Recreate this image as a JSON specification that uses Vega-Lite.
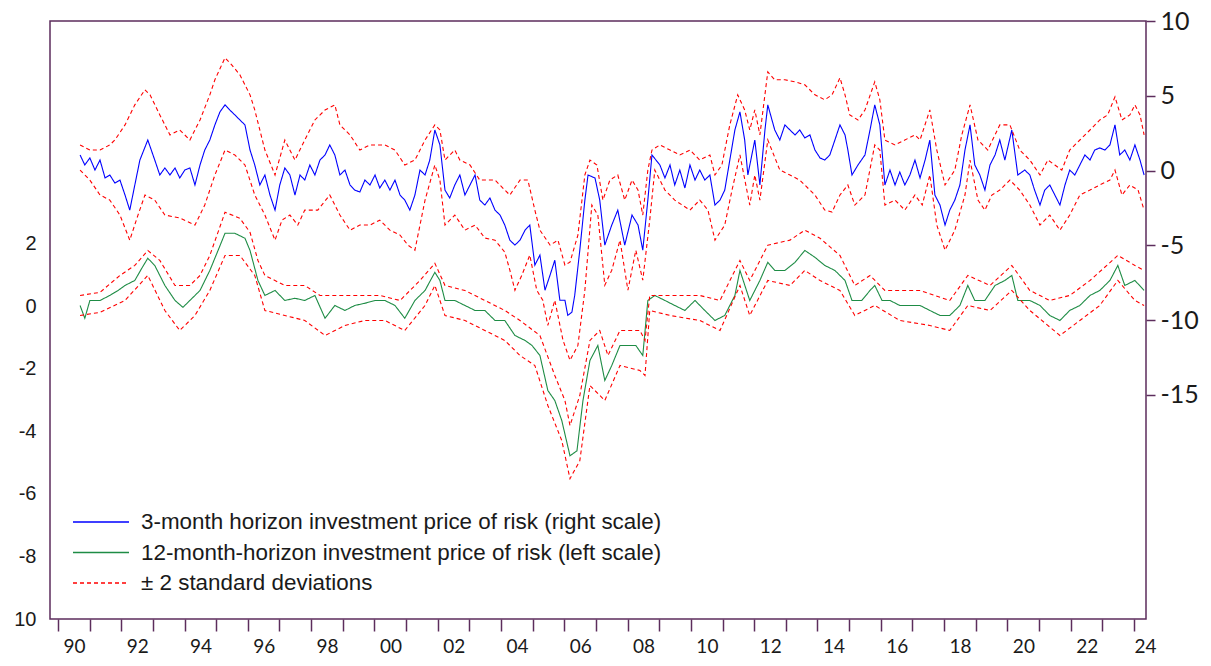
{
 "$schema": "https://vega.github.io/schema/vega-lite/v6.json",
 "width": 1096,
 "height": 598,
 "autosize": {"type": "none"},
 "padding": {"left": 50, "top": 21, "right": 65, "bottom": 47},
 "background": "white",
 "config": {"view": {"stroke": "#5c2d5c", "strokeWidth": 1.5}},
 "datasets": {
  "blue": [
   {"s":"b","t":1990.70,"v":1.04},{"s":"b","t":1990.85,"v":0.37},{"s":"b","t":1991.01,"v":0.84},{"s":"b","t":1991.17,"v":0.03},{"s":"b","t":1991.33,"v":0.70},{"s":"b","t":1991.49,"v":-0.50},{"s":"b","t":1991.64,"v":-0.30},{"s":"b","t":1991.80,"v":-0.84},{"s":"b","t":1991.96,"v":-0.64},{"s":"b","t":1992.12,"v":-1.64},{"s":"b","t":1992.27,"v":-2.65},{"s":"b","t":1992.43,"v":-0.97},{"s":"b","t":1992.59,"v":0.70},{"s":"b","t":1992.84,"v":2.04},{"s":"b","t":1993.06,"v":0.70},{"s":"b","t":1993.22,"v":-0.30},{"s":"b","t":1993.38,"v":0.17},{"s":"b","t":1993.54,"v":-0.30},{"s":"b","t":1993.70,"v":0.17},{"s":"b","t":1993.85,"v":-0.50},{"s":"b","t":1994.01,"v":0.03},{"s":"b","t":1994.17,"v":0.17},{"s":"b","t":1994.33,"v":-0.97},{"s":"b","t":1994.49,"v":0.37},{"s":"b","t":1994.64,"v":1.37},{"s":"b","t":1994.80,"v":2.04},{"s":"b","t":1994.96,"v":3.05},{"s":"b","t":1995.12,"v":3.92},{"s":"b","t":1995.28,"v":4.39},{"s":"b","t":1995.43,"v":4.05},{"s":"b","t":1995.59,"v":3.72},{"s":"b","t":1995.75,"v":3.38},{"s":"b","t":1995.91,"v":3.05},{"s":"b","t":1996.07,"v":1.37},{"s":"b","t":1996.22,"v":0.37},{"s":"b","t":1996.38,"v":-0.97},{"s":"b","t":1996.54,"v":-0.30},{"s":"b","t":1996.70,"v":-1.64},{"s":"b","t":1996.86,"v":-2.65},{"s":"b","t":1997.01,"v":-0.97},{"s":"b","t":1997.17,"v":0.17},{"s":"b","t":1997.33,"v":-0.30},{"s":"b","t":1997.49,"v":-1.64},{"s":"b","t":1997.65,"v":-0.30},{"s":"b","t":1997.80,"v":-0.64},{"s":"b","t":1997.96,"v":0.37},{"s":"b","t":1998.12,"v":-0.30},{"s":"b","t":1998.28,"v":0.70},{"s":"b","t":1998.44,"v":1.04},{"s":"b","t":1998.59,"v":1.71},{"s":"b","t":1998.75,"v":1.04},{"s":"b","t":1998.91,"v":-0.30},{"s":"b","t":1999.07,"v":0.03},{"s":"b","t":1999.23,"v":-0.97},{"s":"b","t":1999.38,"v":-1.31},{"s":"b","t":1999.54,"v":-1.44},{"s":"b","t":1999.70,"v":-0.64},{"s":"b","t":1999.86,"v":-0.97},{"s":"b","t":2000.02,"v":-0.30},{"s":"b","t":2000.17,"v":-1.17},{"s":"b","t":2000.33,"v":-0.64},{"s":"b","t":2000.49,"v":-1.31},{"s":"b","t":2000.65,"v":-0.64},{"s":"b","t":2000.81,"v":-1.64},{"s":"b","t":2000.96,"v":-1.98},{"s":"b","t":2001.12,"v":-2.65},{"s":"b","t":2001.28,"v":-1.64},{"s":"b","t":2001.44,"v":0.03},{"s":"b","t":2001.60,"v":-0.30},{"s":"b","t":2001.75,"v":0.70},{"s":"b","t":2001.91,"v":2.71},{"s":"b","t":2002.07,"v":1.71},{"s":"b","t":2002.23,"v":-1.31},{"s":"b","t":2002.38,"v":-1.84},{"s":"b","t":2002.54,"v":-0.97},{"s":"b","t":2002.70,"v":-0.30},{"s":"b","t":2002.86,"v":-1.64},{"s":"b","t":2003.02,"v":-0.97},{"s":"b","t":2003.18,"v":-0.30},{"s":"b","t":2003.33,"v":-1.98},{"s":"b","t":2003.49,"v":-2.31},{"s":"b","t":2003.65,"v":-1.84},{"s":"b","t":2003.81,"v":-2.65},{"s":"b","t":2003.97,"v":-2.98},{"s":"b","t":2004.12,"v":-3.65},{"s":"b","t":2004.28,"v":-4.66},{"s":"b","t":2004.44,"v":-4.99},{"s":"b","t":2004.60,"v":-4.66},{"s":"b","t":2004.76,"v":-3.99},{"s":"b","t":2004.91,"v":-3.65},{"s":"b","t":2005.07,"v":-6.33},{"s":"b","t":2005.23,"v":-5.66},{"s":"b","t":2005.39,"v":-8.01},{"s":"b","t":2005.55,"v":-7.00},{"s":"b","t":2005.70,"v":-6.00},{"s":"b","t":2005.86,"v":-8.68},{"s":"b","t":2006.02,"v":-8.68},{"s":"b","t":2006.11,"v":-9.69},{"s":"b","t":2006.24,"v":-9.48},{"s":"b","t":2006.33,"v":-8.34},{"s":"b","t":2006.49,"v":-5.33},{"s":"b","t":2006.65,"v":-1.98},{"s":"b","t":2006.75,"v":-0.30},{"s":"b","t":2006.97,"v":-0.50},{"s":"b","t":2007.12,"v":-1.98},{"s":"b","t":2007.28,"v":-4.99},{"s":"b","t":2007.50,"v":-3.65},{"s":"b","t":2007.69,"v":-2.65},{"s":"b","t":2007.91,"v":-4.99},{"s":"b","t":2008.14,"v":-2.98},{"s":"b","t":2008.33,"v":-3.65},{"s":"b","t":2008.48,"v":-5.33},{"s":"b","t":2008.64,"v":-1.98},{"s":"b","t":2008.77,"v":1.04},{"s":"b","t":2009.02,"v":0.37},{"s":"b","t":2009.18,"v":-0.50},{"s":"b","t":2009.34,"v":0.37},{"s":"b","t":2009.49,"v":-0.97},{"s":"b","t":2009.65,"v":0.03},{"s":"b","t":2009.81,"v":-1.17},{"s":"b","t":2009.97,"v":0.37},{"s":"b","t":2010.13,"v":-0.64},{"s":"b","t":2010.28,"v":0.03},{"s":"b","t":2010.44,"v":-0.64},{"s":"b","t":2010.60,"v":-0.30},{"s":"b","t":2010.76,"v":-2.31},{"s":"b","t":2010.92,"v":-1.98},{"s":"b","t":2011.07,"v":-1.31},{"s":"b","t":2011.23,"v":0.70},{"s":"b","t":2011.39,"v":2.71},{"s":"b","t":2011.55,"v":3.92},{"s":"b","t":2011.70,"v":2.04},{"s":"b","t":2011.80,"v":-0.30},{"s":"b","t":2012.02,"v":2.04},{"s":"b","t":2012.18,"v":-0.97},{"s":"b","t":2012.34,"v":2.71},{"s":"b","t":2012.43,"v":4.39},{"s":"b","t":2012.65,"v":2.71},{"s":"b","t":2012.81,"v":2.04},{"s":"b","t":2012.97,"v":3.05},{"s":"b","t":2013.13,"v":2.71},{"s":"b","t":2013.29,"v":2.38},{"s":"b","t":2013.44,"v":2.71},{"s":"b","t":2013.60,"v":2.18},{"s":"b","t":2013.76,"v":2.38},{"s":"b","t":2013.92,"v":1.37},{"s":"b","t":2014.08,"v":0.84},{"s":"b","t":2014.23,"v":0.70},{"s":"b","t":2014.39,"v":1.04},{"s":"b","t":2014.55,"v":2.04},{"s":"b","t":2014.71,"v":3.05},{"s":"b","t":2014.87,"v":2.38},{"s":"b","t":2014.96,"v":1.37},{"s":"b","t":2015.09,"v":-0.30},{"s":"b","t":2015.28,"v":0.37},{"s":"b","t":2015.50,"v":1.04},{"s":"b","t":2015.66,"v":2.71},{"s":"b","t":2015.81,"v":4.39},{"s":"b","t":2015.97,"v":3.05},{"s":"b","t":2016.13,"v":-0.97},{"s":"b","t":2016.29,"v":0.03},{"s":"b","t":2016.45,"v":-0.97},{"s":"b","t":2016.60,"v":-0.10},{"s":"b","t":2016.76,"v":-0.97},{"s":"b","t":2016.92,"v":-0.30},{"s":"b","t":2017.08,"v":0.70},{"s":"b","t":2017.24,"v":-0.50},{"s":"b","t":2017.40,"v":0.70},{"s":"b","t":2017.55,"v":2.04},{"s":"b","t":2017.71,"v":-1.64},{"s":"b","t":2017.87,"v":-2.31},{"s":"b","t":2018.03,"v":-3.65},{"s":"b","t":2018.18,"v":-2.65},{"s":"b","t":2018.34,"v":-1.98},{"s":"b","t":2018.50,"v":-0.97},{"s":"b","t":2018.66,"v":1.37},{"s":"b","t":2018.82,"v":3.05},{"s":"b","t":2018.97,"v":0.37},{"s":"b","t":2019.13,"v":-0.30},{"s":"b","t":2019.29,"v":-1.31},{"s":"b","t":2019.45,"v":0.37},{"s":"b","t":2019.61,"v":1.04},{"s":"b","t":2019.76,"v":2.04},{"s":"b","t":2019.92,"v":0.70},{"s":"b","t":2020.14,"v":2.71},{"s":"b","t":2020.33,"v":-0.30},{"s":"b","t":2020.55,"v":0.03},{"s":"b","t":2020.71,"v":-0.30},{"s":"b","t":2020.86,"v":-1.31},{"s":"b","t":2021.03,"v":-2.31},{"s":"b","t":2021.18,"v":-1.31},{"s":"b","t":2021.34,"v":-0.97},{"s":"b","t":2021.50,"v":-1.64},{"s":"b","t":2021.66,"v":-2.31},{"s":"b","t":2021.82,"v":-0.97},{"s":"b","t":2021.97,"v":0.03},{"s":"b","t":2022.13,"v":-0.30},{"s":"b","t":2022.29,"v":0.37},{"s":"b","t":2022.45,"v":1.04},{"s":"b","t":2022.61,"v":0.70},{"s":"b","t":2022.76,"v":1.37},{"s":"b","t":2022.92,"v":1.51},{"s":"b","t":2023.08,"v":1.37},{"s":"b","t":2023.24,"v":1.71},{"s":"b","t":2023.40,"v":3.05},{"s":"b","t":2023.55,"v":1.04},{"s":"b","t":2023.71,"v":1.37},{"s":"b","t":2023.87,"v":0.70},{"s":"b","t":2024.03,"v":1.71},{"s":"b","t":2024.19,"v":0.70},{"s":"b","t":2024.32,"v":-0.30},
   {"s":"bh","t":1990.70,"v":1.71},{"s":"bh","t":1991.01,"v":1.37},{"s":"bh","t":1991.33,"v":1.37},{"s":"bh","t":1991.64,"v":1.71},{"s":"bh","t":1991.80,"v":2.04},{"s":"bh","t":1992.12,"v":3.05},{"s":"bh","t":1992.43,"v":4.39},{"s":"bh","t":1992.75,"v":5.40},{"s":"bh","t":1992.91,"v":5.06},{"s":"bh","t":1993.22,"v":3.72},{"s":"bh","t":1993.54,"v":2.38},{"s":"bh","t":1993.85,"v":2.71},{"s":"bh","t":1994.17,"v":2.04},{"s":"bh","t":1994.33,"v":2.71},{"s":"bh","t":1994.49,"v":3.38},{"s":"bh","t":1994.80,"v":5.06},{"s":"bh","t":1994.96,"v":6.07},{"s":"bh","t":1995.28,"v":7.54},{"s":"bh","t":1995.49,"v":7.07},{"s":"bh","t":1995.75,"v":6.40},{"s":"bh","t":1996.07,"v":5.06},{"s":"bh","t":1996.22,"v":4.05},{"s":"bh","t":1996.54,"v":1.37},{"s":"bh","t":1996.86,"v":-0.30},{"s":"bh","t":1997.17,"v":2.04},{"s":"bh","t":1997.49,"v":0.70},{"s":"bh","t":1997.80,"v":2.04},{"s":"bh","t":1998.12,"v":3.38},{"s":"bh","t":1998.44,"v":4.05},{"s":"bh","t":1998.75,"v":4.39},{"s":"bh","t":1998.91,"v":3.05},{"s":"bh","t":1999.23,"v":2.38},{"s":"bh","t":1999.54,"v":1.37},{"s":"bh","t":1999.86,"v":1.71},{"s":"bh","t":2000.33,"v":1.71},{"s":"bh","t":2000.65,"v":1.37},{"s":"bh","t":2000.96,"v":0.37},{"s":"bh","t":2001.28,"v":0.70},{"s":"bh","t":2001.60,"v":2.04},{"s":"bh","t":2001.91,"v":3.05},{"s":"bh","t":2002.07,"v":2.71},{"s":"bh","t":2002.23,"v":0.70},{"s":"bh","t":2002.54,"v":1.37},{"s":"bh","t":2002.70,"v":0.70},{"s":"bh","t":2003.02,"v":0.37},{"s":"bh","t":2003.33,"v":-0.64},{"s":"bh","t":2003.81,"v":-0.64},{"s":"bh","t":2004.12,"v":-1.31},{"s":"bh","t":2004.28,"v":-1.64},{"s":"bh","t":2004.60,"v":-0.64},{"s":"bh","t":2004.85,"v":-0.64},{"s":"bh","t":2005.07,"v":-2.65},{"s":"bh","t":2005.23,"v":-3.99},{"s":"bh","t":2005.55,"v":-4.99},{"s":"bh","t":2005.80,"v":-4.66},{"s":"bh","t":2006.02,"v":-6.33},{"s":"bh","t":2006.18,"v":-6.13},{"s":"bh","t":2006.43,"v":-4.32},{"s":"bh","t":2006.65,"v":-0.30},{"s":"bh","t":2006.81,"v":0.70},{"s":"bh","t":2007.03,"v":0.37},{"s":"bh","t":2007.22,"v":-1.98},{"s":"bh","t":2007.44,"v":-0.64},{"s":"bh","t":2007.69,"v":-0.30},{"s":"bh","t":2007.91,"v":-1.98},{"s":"bh","t":2008.14,"v":-0.64},{"s":"bh","t":2008.33,"v":-1.31},{"s":"bh","t":2008.48,"v":-2.98},{"s":"bh","t":2008.64,"v":0.03},{"s":"bh","t":2008.77,"v":1.37},{"s":"bh","t":2009.02,"v":1.71},{"s":"bh","t":2009.34,"v":1.37},{"s":"bh","t":2009.65,"v":1.04},{"s":"bh","t":2009.97,"v":1.37},{"s":"bh","t":2010.28,"v":0.70},{"s":"bh","t":2010.60,"v":1.04},{"s":"bh","t":2010.76,"v":-0.30},{"s":"bh","t":2010.98,"v":0.37},{"s":"bh","t":2011.23,"v":3.05},{"s":"bh","t":2011.48,"v":5.06},{"s":"bh","t":2011.70,"v":4.05},{"s":"bh","t":2011.86,"v":2.71},{"s":"bh","t":2012.02,"v":4.05},{"s":"bh","t":2012.18,"v":2.38},{"s":"bh","t":2012.43,"v":6.60},{"s":"bh","t":2012.65,"v":6.07},{"s":"bh","t":2012.97,"v":6.07},{"s":"bh","t":2013.29,"v":5.93},{"s":"bh","t":2013.60,"v":5.73},{"s":"bh","t":2013.92,"v":5.06},{"s":"bh","t":2014.23,"v":4.73},{"s":"bh","t":2014.46,"v":5.06},{"s":"bh","t":2014.71,"v":6.20},{"s":"bh","t":2014.87,"v":5.06},{"s":"bh","t":2015.02,"v":3.72},{"s":"bh","t":2015.28,"v":3.38},{"s":"bh","t":2015.50,"v":4.05},{"s":"bh","t":2015.81,"v":5.93},{"s":"bh","t":2015.97,"v":4.73},{"s":"bh","t":2016.13,"v":2.04},{"s":"bh","t":2016.45,"v":1.71},{"s":"bh","t":2016.76,"v":2.04},{"s":"bh","t":2017.08,"v":2.38},{"s":"bh","t":2017.24,"v":2.04},{"s":"bh","t":2017.55,"v":4.05},{"s":"bh","t":2017.77,"v":1.37},{"s":"bh","t":2018.03,"v":-0.97},{"s":"bh","t":2018.34,"v":0.03},{"s":"bh","t":2018.56,"v":2.38},{"s":"bh","t":2018.82,"v":4.39},{"s":"bh","t":2019.07,"v":2.04},{"s":"bh","t":2019.38,"v":1.37},{"s":"bh","t":2019.76,"v":3.05},{"s":"bh","t":2020.08,"v":3.05},{"s":"bh","t":2020.39,"v":1.37},{"s":"bh","t":2020.71,"v":0.70},{"s":"bh","t":2021.03,"v":-0.30},{"s":"bh","t":2021.28,"v":0.70},{"s":"bh","t":2021.50,"v":0.37},{"s":"bh","t":2021.72,"v":0.03},{"s":"bh","t":2021.97,"v":1.37},{"s":"bh","t":2022.29,"v":2.04},{"s":"bh","t":2022.61,"v":2.71},{"s":"bh","t":2022.92,"v":3.38},{"s":"bh","t":2023.17,"v":3.72},{"s":"bh","t":2023.40,"v":4.93},{"s":"bh","t":2023.62,"v":3.38},{"s":"bh","t":2023.87,"v":3.72},{"s":"bh","t":2024.03,"v":4.39},{"s":"bh","t":2024.19,"v":3.72},{"s":"bh","t":2024.32,"v":2.38},
   {"s":"bl","t":1990.70,"v":0.03},{"s":"bl","t":1991.01,"v":-0.64},{"s":"bl","t":1991.33,"v":-1.64},{"s":"bl","t":1991.64,"v":-1.98},{"s":"bl","t":1991.96,"v":-2.98},{"s":"bl","t":1992.27,"v":-4.66},{"s":"bl","t":1992.53,"v":-2.98},{"s":"bl","t":1992.75,"v":-1.64},{"s":"bl","t":1993.06,"v":-1.98},{"s":"bl","t":1993.38,"v":-2.98},{"s":"bl","t":1993.85,"v":-3.18},{"s":"bl","t":1994.33,"v":-3.65},{"s":"bl","t":1994.64,"v":-2.31},{"s":"bl","t":1994.96,"v":-0.30},{"s":"bl","t":1995.28,"v":1.37},{"s":"bl","t":1995.59,"v":1.04},{"s":"bl","t":1995.91,"v":0.37},{"s":"bl","t":1996.22,"v":-1.64},{"s":"bl","t":1996.54,"v":-2.98},{"s":"bl","t":1996.86,"v":-4.66},{"s":"bl","t":1997.08,"v":-3.32},{"s":"bl","t":1997.33,"v":-2.98},{"s":"bl","t":1997.58,"v":-3.65},{"s":"bl","t":1997.80,"v":-2.65},{"s":"bl","t":1998.21,"v":-2.65},{"s":"bl","t":1998.59,"v":-1.64},{"s":"bl","t":1998.91,"v":-2.98},{"s":"bl","t":1999.23,"v":-3.99},{"s":"bl","t":1999.54,"v":-3.65},{"s":"bl","t":1999.86,"v":-3.65},{"s":"bl","t":2000.17,"v":-3.32},{"s":"bl","t":2000.49,"v":-3.99},{"s":"bl","t":2000.81,"v":-4.32},{"s":"bl","t":2001.06,"v":-4.99},{"s":"bl","t":2001.28,"v":-5.33},{"s":"bl","t":2001.60,"v":-1.98},{"s":"bl","t":2001.91,"v":0.37},{"s":"bl","t":2002.07,"v":-0.64},{"s":"bl","t":2002.23,"v":-3.65},{"s":"bl","t":2002.54,"v":-2.98},{"s":"bl","t":2002.86,"v":-3.99},{"s":"bl","t":2003.18,"v":-3.65},{"s":"bl","t":2003.49,"v":-4.52},{"s":"bl","t":2003.81,"v":-4.66},{"s":"bl","t":2004.12,"v":-5.46},{"s":"bl","t":2004.28,"v":-6.67},{"s":"bl","t":2004.44,"v":-8.01},{"s":"bl","t":2004.66,"v":-7.00},{"s":"bl","t":2004.91,"v":-5.66},{"s":"bl","t":2005.13,"v":-8.01},{"s":"bl","t":2005.32,"v":-8.68},{"s":"bl","t":2005.48,"v":-10.36},{"s":"bl","t":2005.70,"v":-8.68},{"s":"bl","t":2005.96,"v":-11.36},{"s":"bl","t":2006.18,"v":-12.70},{"s":"bl","t":2006.43,"v":-11.70},{"s":"bl","t":2006.65,"v":-8.01},{"s":"bl","t":2006.87,"v":-2.31},{"s":"bl","t":2007.06,"v":-2.98},{"s":"bl","t":2007.28,"v":-7.67},{"s":"bl","t":2007.50,"v":-6.67},{"s":"bl","t":2007.76,"v":-4.66},{"s":"bl","t":2008.01,"v":-8.01},{"s":"bl","t":2008.26,"v":-5.33},{"s":"bl","t":2008.48,"v":-7.34},{"s":"bl","t":2008.70,"v":-3.32},{"s":"bl","t":2008.86,"v":0.03},{"s":"bl","t":2009.18,"v":-1.31},{"s":"bl","t":2009.49,"v":-1.98},{"s":"bl","t":2009.97,"v":-2.65},{"s":"bl","t":2010.28,"v":-1.98},{"s":"bl","t":2010.54,"v":-2.65},{"s":"bl","t":2010.76,"v":-4.66},{"s":"bl","t":2011.07,"v":-3.65},{"s":"bl","t":2011.30,"v":-1.31},{"s":"bl","t":2011.55,"v":1.04},{"s":"bl","t":2011.86,"v":-2.31},{"s":"bl","t":2012.02,"v":-0.30},{"s":"bl","t":2012.18,"v":-1.98},{"s":"bl","t":2012.43,"v":2.04},{"s":"bl","t":2012.81,"v":0.03},{"s":"bl","t":2013.13,"v":-0.30},{"s":"bl","t":2013.44,"v":-0.64},{"s":"bl","t":2013.92,"v":-1.64},{"s":"bl","t":2014.23,"v":-2.65},{"s":"bl","t":2014.46,"v":-2.78},{"s":"bl","t":2014.71,"v":-1.64},{"s":"bl","t":2014.96,"v":-0.97},{"s":"bl","t":2015.18,"v":-2.31},{"s":"bl","t":2015.50,"v":-1.64},{"s":"bl","t":2015.81,"v":1.71},{"s":"bl","t":2015.97,"v":1.37},{"s":"bl","t":2016.13,"v":-2.31},{"s":"bl","t":2016.45,"v":-1.98},{"s":"bl","t":2016.76,"v":-2.65},{"s":"bl","t":2017.08,"v":-1.64},{"s":"bl","t":2017.31,"v":-2.31},{"s":"bl","t":2017.55,"v":-0.30},{"s":"bl","t":2017.77,"v":-3.65},{"s":"bl","t":2018.03,"v":-5.33},{"s":"bl","t":2018.34,"v":-3.99},{"s":"bl","t":2018.66,"v":-1.64},{"s":"bl","t":2018.82,"v":0.70},{"s":"bl","t":2019.07,"v":-1.98},{"s":"bl","t":2019.29,"v":-2.65},{"s":"bl","t":2019.51,"v":-1.64},{"s":"bl","t":2019.76,"v":-1.31},{"s":"bl","t":2020.08,"v":-0.64},{"s":"bl","t":2020.39,"v":-1.31},{"s":"bl","t":2020.71,"v":-2.31},{"s":"bl","t":2021.03,"v":-3.65},{"s":"bl","t":2021.34,"v":-2.98},{"s":"bl","t":2021.66,"v":-3.99},{"s":"bl","t":2021.97,"v":-2.98},{"s":"bl","t":2022.29,"v":-1.64},{"s":"bl","t":2022.61,"v":-1.31},{"s":"bl","t":2022.92,"v":-0.97},{"s":"bl","t":2023.24,"v":-0.64},{"s":"bl","t":2023.40,"v":0.03},{"s":"bl","t":2023.62,"v":-1.64},{"s":"bl","t":2023.87,"v":-0.97},{"s":"bl","t":2024.13,"v":-1.31},{"s":"bl","t":2024.32,"v":-2.65}
  ],
  "green": [
   {"s":"g","t":1990.70,"v":0.03},{"s":"g","t":1990.85,"v":-0.38},{"s":"g","t":1991.01,"v":0.19},{"s":"g","t":1991.33,"v":0.19},{"s":"g","t":1991.64,"v":0.35},{"s":"g","t":1991.90,"v":0.51},{"s":"g","t":1992.12,"v":0.67},{"s":"g","t":1992.43,"v":0.83},{"s":"g","t":1992.65,"v":1.22},{"s":"g","t":1992.84,"v":1.54},{"s":"g","t":1993.06,"v":1.31},{"s":"g","t":1993.38,"v":0.67},{"s":"g","t":1993.70,"v":0.19},{"s":"g","t":1993.95,"v":-0.03},{"s":"g","t":1994.17,"v":0.19},{"s":"g","t":1994.49,"v":0.51},{"s":"g","t":1994.80,"v":1.15},{"s":"g","t":1995.06,"v":1.79},{"s":"g","t":1995.28,"v":2.34},{"s":"g","t":1995.59,"v":2.34},{"s":"g","t":1995.91,"v":2.18},{"s":"g","t":1996.07,"v":1.79},{"s":"g","t":1996.32,"v":0.83},{"s":"g","t":1996.54,"v":0.35},{"s":"g","t":1996.86,"v":0.51},{"s":"g","t":1997.17,"v":0.19},{"s":"g","t":1997.49,"v":0.26},{"s":"g","t":1997.80,"v":0.19},{"s":"g","t":1998.12,"v":0.35},{"s":"g","t":1998.44,"v":-0.38},{"s":"g","t":1998.75,"v":0.03},{"s":"g","t":1999.07,"v":-0.13},{"s":"g","t":1999.38,"v":0.03},{"s":"g","t":1999.70,"v":0.10},{"s":"g","t":2000.02,"v":0.19},{"s":"g","t":2000.33,"v":0.19},{"s":"g","t":2000.65,"v":0.03},{"s":"g","t":2000.96,"v":-0.38},{"s":"g","t":2001.28,"v":0.19},{"s":"g","t":2001.60,"v":0.51},{"s":"g","t":2001.91,"v":1.09},{"s":"g","t":2002.07,"v":0.83},{"s":"g","t":2002.23,"v":0.19},{"s":"g","t":2002.54,"v":0.19},{"s":"g","t":2002.86,"v":0.03},{"s":"g","t":2003.18,"v":-0.13},{"s":"g","t":2003.49,"v":-0.13},{"s":"g","t":2003.81,"v":-0.45},{"s":"g","t":2004.12,"v":-0.45},{"s":"g","t":2004.44,"v":-0.93},{"s":"g","t":2004.76,"v":-1.09},{"s":"g","t":2004.98,"v":-1.25},{"s":"g","t":2005.23,"v":-1.57},{"s":"g","t":2005.48,"v":-2.69},{"s":"g","t":2005.70,"v":-3.01},{"s":"g","t":2005.92,"v":-3.65},{"s":"g","t":2006.18,"v":-4.78},{"s":"g","t":2006.40,"v":-4.62},{"s":"g","t":2006.59,"v":-3.01},{"s":"g","t":2006.81,"v":-1.73},{"s":"g","t":2007.06,"v":-1.25},{"s":"g","t":2007.28,"v":-2.37},{"s":"g","t":2007.50,"v":-1.89},{"s":"g","t":2007.76,"v":-1.25},{"s":"g","t":2008.01,"v":-1.25},{"s":"g","t":2008.26,"v":-1.25},{"s":"g","t":2008.48,"v":-1.57},{"s":"g","t":2008.64,"v":0.19},{"s":"g","t":2008.86,"v":0.35},{"s":"g","t":2009.18,"v":0.19},{"s":"g","t":2009.49,"v":0.03},{"s":"g","t":2009.81,"v":-0.13},{"s":"g","t":2010.13,"v":0.19},{"s":"g","t":2010.44,"v":-0.13},{"s":"g","t":2010.76,"v":-0.45},{"s":"g","t":2011.07,"v":-0.29},{"s":"g","t":2011.39,"v":0.35},{"s":"g","t":2011.55,"v":1.15},{"s":"g","t":2011.86,"v":0.19},{"s":"g","t":2012.18,"v":0.83},{"s":"g","t":2012.43,"v":1.41},{"s":"g","t":2012.65,"v":1.15},{"s":"g","t":2012.97,"v":1.15},{"s":"g","t":2013.29,"v":1.41},{"s":"g","t":2013.60,"v":1.79},{"s":"g","t":2013.92,"v":1.57},{"s":"g","t":2014.23,"v":1.31},{"s":"g","t":2014.55,"v":1.15},{"s":"g","t":2014.87,"v":0.83},{"s":"g","t":2015.09,"v":0.19},{"s":"g","t":2015.40,"v":0.19},{"s":"g","t":2015.66,"v":0.51},{"s":"g","t":2015.81,"v":0.67},{"s":"g","t":2016.04,"v":0.19},{"s":"g","t":2016.29,"v":0.19},{"s":"g","t":2016.60,"v":0.03},{"s":"g","t":2016.92,"v":0.03},{"s":"g","t":2017.24,"v":0.03},{"s":"g","t":2017.55,"v":-0.13},{"s":"g","t":2017.87,"v":-0.29},{"s":"g","t":2018.18,"v":-0.29},{"s":"g","t":2018.50,"v":0.03},{"s":"g","t":2018.75,"v":0.67},{"s":"g","t":2018.97,"v":0.19},{"s":"g","t":2019.29,"v":0.19},{"s":"g","t":2019.61,"v":0.67},{"s":"g","t":2019.92,"v":0.83},{"s":"g","t":2020.14,"v":0.99},{"s":"g","t":2020.33,"v":0.19},{"s":"g","t":2020.71,"v":0.19},{"s":"g","t":2021.03,"v":0.03},{"s":"g","t":2021.34,"v":-0.29},{"s":"g","t":2021.66,"v":-0.45},{"s":"g","t":2021.97,"v":-0.13},{"s":"g","t":2022.29,"v":0.03},{"s":"g","t":2022.61,"v":0.35},{"s":"g","t":2022.92,"v":0.51},{"s":"g","t":2023.24,"v":0.83},{"s":"g","t":2023.49,"v":1.31},{"s":"g","t":2023.71,"v":0.67},{"s":"g","t":2024.03,"v":0.83},{"s":"g","t":2024.32,"v":0.51},
   {"s":"gh","t":1990.70,"v":0.35},{"s":"gh","t":1991.33,"v":0.45},{"s":"gh","t":1991.96,"v":0.99},{"s":"gh","t":1992.43,"v":1.31},{"s":"gh","t":1992.84,"v":1.79},{"s":"gh","t":1993.22,"v":1.47},{"s":"gh","t":1993.70,"v":0.67},{"s":"gh","t":1994.17,"v":0.67},{"s":"gh","t":1994.49,"v":0.99},{"s":"gh","t":1994.80,"v":1.63},{"s":"gh","t":1995.28,"v":3.01},{"s":"gh","t":1995.75,"v":2.82},{"s":"gh","t":1996.07,"v":2.37},{"s":"gh","t":1996.32,"v":1.47},{"s":"gh","t":1996.54,"v":0.99},{"s":"gh","t":1997.17,"v":0.67},{"s":"gh","t":1997.80,"v":0.67},{"s":"gh","t":1998.28,"v":0.35},{"s":"gh","t":1998.91,"v":0.35},{"s":"gh","t":1999.54,"v":0.35},{"s":"gh","t":2000.17,"v":0.35},{"s":"gh","t":2000.81,"v":0.19},{"s":"gh","t":2001.44,"v":0.83},{"s":"gh","t":2001.91,"v":1.38},{"s":"gh","t":2002.23,"v":0.67},{"s":"gh","t":2002.86,"v":0.51},{"s":"gh","t":2003.49,"v":0.19},{"s":"gh","t":2004.12,"v":-0.13},{"s":"gh","t":2004.60,"v":-0.45},{"s":"gh","t":2005.23,"v":-0.93},{"s":"gh","t":2005.70,"v":-2.21},{"s":"gh","t":2006.02,"v":-3.01},{"s":"gh","t":2006.18,"v":-3.81},{"s":"gh","t":2006.49,"v":-2.85},{"s":"gh","t":2006.81,"v":-1.09},{"s":"gh","t":2007.12,"v":-0.77},{"s":"gh","t":2007.38,"v":-1.57},{"s":"gh","t":2007.76,"v":-0.77},{"s":"gh","t":2008.39,"v":-0.77},{"s":"gh","t":2008.55,"v":-1.09},{"s":"gh","t":2008.70,"v":0.35},{"s":"gh","t":2009.34,"v":0.35},{"s":"gh","t":2010.28,"v":0.35},{"s":"gh","t":2010.92,"v":0.19},{"s":"gh","t":2011.55,"v":1.47},{"s":"gh","t":2011.86,"v":0.83},{"s":"gh","t":2012.43,"v":1.96},{"s":"gh","t":2013.13,"v":2.12},{"s":"gh","t":2013.60,"v":2.44},{"s":"gh","t":2014.08,"v":2.18},{"s":"gh","t":2014.71,"v":1.63},{"s":"gh","t":2015.18,"v":0.67},{"s":"gh","t":2015.66,"v":0.99},{"s":"gh","t":2016.13,"v":0.51},{"s":"gh","t":2017.24,"v":0.51},{"s":"gh","t":2018.18,"v":0.19},{"s":"gh","t":2018.75,"v":0.99},{"s":"gh","t":2019.45,"v":0.67},{"s":"gh","t":2020.14,"v":1.31},{"s":"gh","t":2020.71,"v":0.51},{"s":"gh","t":2021.34,"v":0.19},{"s":"gh","t":2021.97,"v":0.35},{"s":"gh","t":2022.61,"v":0.83},{"s":"gh","t":2023.49,"v":1.63},{"s":"gh","t":2024.03,"v":1.31},{"s":"gh","t":2024.32,"v":1.15},
   {"s":"gl","t":1990.70,"v":-0.29},{"s":"gl","t":1991.33,"v":-0.19},{"s":"gl","t":1992.12,"v":0.19},{"s":"gl","t":1992.84,"v":0.99},{"s":"gl","t":1993.38,"v":-0.13},{"s":"gl","t":1993.85,"v":-0.77},{"s":"gl","t":1994.33,"v":-0.29},{"s":"gl","t":1994.80,"v":0.51},{"s":"gl","t":1995.28,"v":1.63},{"s":"gl","t":1995.75,"v":1.63},{"s":"gl","t":1996.22,"v":0.99},{"s":"gl","t":1996.54,"v":-0.13},{"s":"gl","t":1997.17,"v":-0.29},{"s":"gl","t":1997.80,"v":-0.45},{"s":"gl","t":1998.44,"v":-0.93},{"s":"gl","t":1999.07,"v":-0.61},{"s":"gl","t":1999.70,"v":-0.45},{"s":"gl","t":2000.33,"v":-0.45},{"s":"gl","t":2000.96,"v":-0.77},{"s":"gl","t":2001.60,"v":0.03},{"s":"gl","t":2001.91,"v":0.67},{"s":"gl","t":2002.23,"v":-0.29},{"s":"gl","t":2002.86,"v":-0.45},{"s":"gl","t":2003.49,"v":-0.77},{"s":"gl","t":2004.12,"v":-1.09},{"s":"gl","t":2004.60,"v":-1.57},{"s":"gl","t":2005.07,"v":-1.89},{"s":"gl","t":2005.48,"v":-3.17},{"s":"gl","t":2005.92,"v":-4.29},{"s":"gl","t":2006.18,"v":-5.51},{"s":"gl","t":2006.49,"v":-4.94},{"s":"gl","t":2006.81,"v":-2.53},{"s":"gl","t":2007.28,"v":-3.01},{"s":"gl","t":2007.76,"v":-1.89},{"s":"gl","t":2008.39,"v":-2.05},{"s":"gl","t":2008.55,"v":-2.21},{"s":"gl","t":2008.70,"v":-0.13},{"s":"gl","t":2009.34,"v":-0.29},{"s":"gl","t":2010.28,"v":-0.45},{"s":"gl","t":2010.92,"v":-0.77},{"s":"gl","t":2011.55,"v":0.67},{"s":"gl","t":2011.86,"v":-0.29},{"s":"gl","t":2012.43,"v":0.83},{"s":"gl","t":2013.13,"v":0.67},{"s":"gl","t":2013.60,"v":1.15},{"s":"gl","t":2014.08,"v":0.83},{"s":"gl","t":2014.71,"v":0.51},{"s":"gl","t":2015.18,"v":-0.29},{"s":"gl","t":2015.81,"v":0.03},{"s":"gl","t":2016.60,"v":-0.45},{"s":"gl","t":2017.55,"v":-0.61},{"s":"gl","t":2018.18,"v":-0.77},{"s":"gl","t":2018.75,"v":0.03},{"s":"gl","t":2019.45,"v":-0.13},{"s":"gl","t":2020.14,"v":0.51},{"s":"gl","t":2020.71,"v":-0.13},{"s":"gl","t":2021.66,"v":-0.93},{"s":"gl","t":2022.29,"v":-0.45},{"s":"gl","t":2022.92,"v":0.03},{"s":"gl","t":2023.49,"v":0.83},{"s":"gl","t":2024.03,"v":0.19},{"s":"gl","t":2024.32,"v":0.03}
  ]
 },
 "encoding": {
  "x": {"field": "t", "type": "quantitative",
   "scale": {"domain": [1989.75, 2024.38], "nice": false, "zero": false},
   "axis": {"orient": "bottom", "title": null, "grid": false, "domain": false,
    "values": [1990,1991,1992,1993,1994,1995,1996,1997,1998,1999,2000,2001,2002,2003,2004,2005,2006,2007,2008,2009,2010,2011,2012,2013,2014,2015,2016,2017,2018,2019,2020,2021,2022,2023,2024],
    "labelExpr": "datum.value % 2 == 0 ? substring('' + (100 + datum.value % 100), 1, 3) : ''",
    "labelOffset": {"condition": {"test": "datum.value == 2024", "value": 11}, "value": 16},
    "labelOverlap": false, "labelFlush": false, "labelBound": false,
    "tickSize": 12, "tickWidth": 1.5, "tickColor": "#5c2d5c", "labelPadding": 6,
    "labelFont": "Lato", "labelFontSize": 19, "labelColor": "#1a1a1a"}},
  "color": {"field": "s", "type": "nominal",
   "scale": {"domain": ["b","g","bh","bl","gh","gl"], "range": ["#0000ff","#1e8c45","#ff0000","#ff0000","#ff0000","#ff0000"]},
   "legend": {"orient": "none", "legendX": 22, "legendY": 486, "title": null, "values": ["b","g","bh"],
    "labelExpr": "datum.value == 'b' ? '3-month horizon investment price of risk (right scale)' : datum.value == 'g' ? '12-month-horizon investment price of risk (left scale)' : '± 2 standard deviations'",
    "symbolType": "stroke", "symbolSize": 3136, "symbolStrokeWidth": 1.3, "clipHeight": 30, "rowPadding": 0.5,
    "labelFont": "Liberation Sans", "labelFontSize": 22.4, "labelColor": "#1a1a1a", "labelOffset": 11, "padding": 0, "labelLimit": 800}},
  "strokeDash": {"field": "s", "type": "nominal",
   "scale": {"domain": ["b","g","bh","bl","gh","gl"], "range": [[1,0],[1,0],[4,3],[4,3],[4,3],[4,3]]},
   "legend": {"orient": "none", "legendX": 22, "legendY": 486, "title": null, "values": ["b","g","bh"],
    "labelExpr": "datum.value == 'b' ? '3-month horizon investment price of risk (right scale)' : datum.value == 'g' ? '12-month-horizon investment price of risk (left scale)' : '± 2 standard deviations'",
    "symbolType": "stroke", "symbolSize": 3136, "symbolStrokeWidth": 1.3, "clipHeight": 30, "rowPadding": 0.5,
    "labelFont": "Liberation Sans", "labelFontSize": 22.4, "labelColor": "#1a1a1a", "labelOffset": 11, "padding": 0, "labelLimit": 800}}
 },
 "layer": [
  {"data": {"name": "green"},
   "mark": {"type": "line", "strokeWidth": 1.1, "clip": true},
   "encoding": {"y": {"field": "v", "type": "quantitative",
    "scale": {"domain": [-10, 9.13], "nice": false, "zero": false},
    "axis": {"orient": "left", "title": null, "grid": false, "domain": false, "ticks": false, "tickSize": 0,
     "values": [-10,-8,-6,-4,-2,0,2], "labelExpr": "datum.value == -10 ? '10' : '' + datum.value",
     "labelPadding": 14, "labelFont": "Liberation Sans", "labelFontSize": 20, "labelColor": "#1a1a1a"}}}},
  {"data": {"name": "blue"},
   "mark": {"type": "line", "strokeWidth": 1.1, "clip": true},
   "encoding": {"y": {"field": "v", "type": "quantitative",
    "scale": {"domain": [-30, 10], "nice": false, "zero": false},
    "axis": {"orient": "right", "title": null, "grid": false, "domain": false,
     "values": [-15,-10,-5,0,5,10], "labelExpr": "'' + datum.value", "tickSize": 9, "tickWidth": 1.5, "tickColor": "#5c2d5c",
     "labelPadding": 5, "labelFont": "Lato", "labelFontSize": 25, "labelColor": "#1a1a1a"}}}}
 ],
 "resolve": {"scale": {"y": "independent"}}
}
